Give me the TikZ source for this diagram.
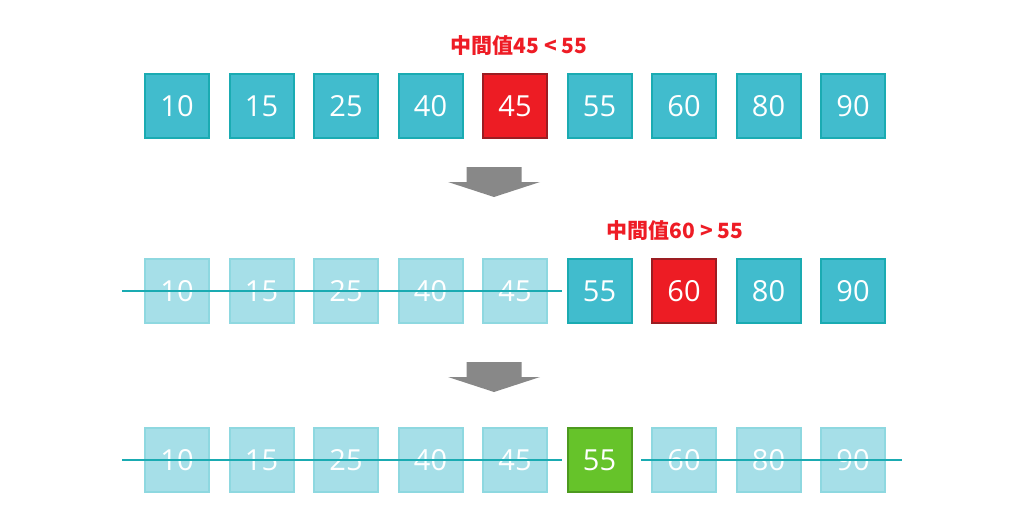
\documentclass[tikz,border=0pt]{standalone}
\usepackage{fontspec}
\setmainfont{Open Sans}
\newfontfamily\cjk{Noto Sans CJK TC}
\usetikzlibrary{positioning}
\definecolor{tealfill}{HTML}{41BCCD}
\definecolor{tealline}{HTML}{1AABB2}
\definecolor{fadefill}{HTML}{A6DFE8}
\definecolor{fadeline}{HTML}{8ED8E0}
\definecolor{midred}{HTML}{ED1C24}
\definecolor{midredline}{HTML}{9B1D22}
\definecolor{hitgreen}{HTML}{66C32A}
\definecolor{hitgreenline}{HTML}{4D9A1F}
\definecolor{labelred}{HTML}{EE1C25}
\definecolor{arrowgray}{HTML}{888888}

\begin{document}
\begin{tikzpicture}[x=1pt,y=-1pt,
    cell/.style={rectangle, draw=tealline, fill=tealfill, line width=2pt, minimum size=64pt, inner sep=0pt, text=white, font=\fontsize{29}{29}\selectfont},
    faded/.style={cell, draw=fadeline, fill=fadefill},
    mid/.style={cell, draw=midredline, fill=midred},
    found/.style={cell, draw=hitgreenline, fill=hitgreen},
    note/.style={text=labelred, font=\cjk\bfseries\fontsize{21}{21}\selectfont},
    strike/.style={draw=tealline, line width=2.2pt},
    down/.style={fill=arrowgray, draw=none}]
    \useasboundingbox [fill=white] (0,0) rectangle (1024,524);

    % First row
    \node [cell] (a1) at (177,106) {10};
    \node [cell, right=18.5pt of a1] (a2) {15};
    \node [cell, right=18.5pt of a2] (a3) {25};
    \node [cell, right=18.5pt of a3] (a4) {40};
    \node [mid, right=18.5pt of a4] (a5) {45};
    \node [cell, right=18.5pt of a5] (a6) {55};
    \node [cell, right=18.5pt of a6] (a7) {60};
    \node [cell, right=18.5pt of a7] (a8) {80};
    \node [cell, right=18.5pt of a8] (a9) {90};
    \node [note, above=14pt of a5, xshift=4pt] (note1) {中間值45 < 55};

    % Second row
    \node [faded] (b1) at (177,291) {10};
    \node [faded, right=18.5pt of b1] (b2) {15};
    \node [faded, right=18.5pt of b2] (b3) {25};
    \node [faded, right=18.5pt of b3] (b4) {40};
    \node [faded, right=18.5pt of b4] (b5) {45};
    \node [cell, right=18.5pt of b5] (b6) {55};
    \node [mid, right=18.5pt of b6] (b7) {60};
    \node [cell, right=18.5pt of b7] (b8) {80};
    \node [cell, right=18.5pt of b8] (b9) {90};
    \node [note, above=14pt of b7, xshift=-9pt] (note2) {中間值60 > 55};

    % Third row
    \node [faded] (c1) at (177,460) {10};
    \node [faded, right=18.5pt of c1] (c2) {15};
    \node [faded, right=18.5pt of c2] (c3) {25};
    \node [faded, right=18.5pt of c3] (c4) {40};
    \node [faded, right=18.5pt of c4] (c5) {45};
    \node [found, right=18.5pt of c5] (c6) {55};
    \node [faded, right=18.5pt of c6] (c7) {60};
    \node [faded, right=18.5pt of c7] (c8) {80};
    \node [faded, right=18.5pt of c8] (c9) {90};

    % Strike lines
    \draw [strike] ([xshift=-22pt]b1.west) -- ([xshift=14pt]b5.east);
    \draw [strike] ([xshift=-22pt]c1.west) -- ([xshift=14pt]c5.east);
    \draw [strike] ([xshift=-10pt]c7.west) -- ([xshift=16pt]c9.east);

    % Arrows between rows
    \coordinate (arr1) at (494,167);
    \coordinate (arr2) at (494,362);
    \fill [down] (arr1) ++(-27.5,0) -- ++(55,0) -- ++(0,15) -- ++(18.5,0) -- ++(-46,15) -- ++(-46,-15) -- ++(18.5,0) -- cycle;
    \fill [down] (arr2) ++(-27.5,0) -- ++(55,0) -- ++(0,15) -- ++(18.5,0) -- ++(-46,15) -- ++(-46,-15) -- ++(18.5,0) -- cycle;

\end{tikzpicture}
\end{document}
